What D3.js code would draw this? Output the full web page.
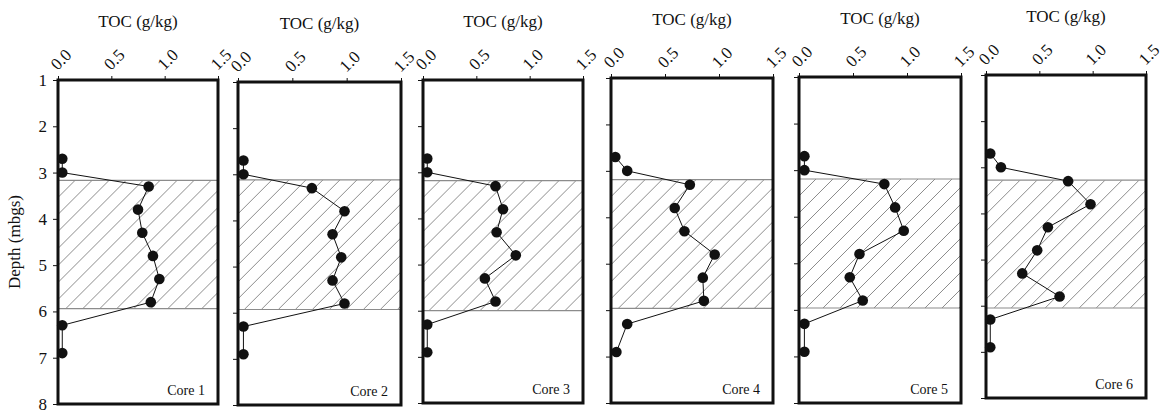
<!DOCTYPE html>
<html>
<head>
<meta charset="utf-8">
<script src="https://cdn.jsdelivr.net/npm/d3@7"></script>
<style>
  html, body { margin: 0; padding: 0; background: #fff; }
  svg { display: block; }
  svg text { font-family: "Liberation Serif", "DejaVu Serif", serif; fill: #111; }
</style>
</head>
<body>
<svg id="chart" width="1166" height="413"></svg>
<script>
// ---- data ----
const coreNames = ["Core 1", "Core 2", "Core 3", "Core 4", "Core 5", "Core 6"];
const depths = [2.7, 3.0, 3.3, 3.8, 4.3, 4.8, 5.3, 5.8, 6.3, 6.9];
const core1 = [0.04, 0.04, 0.85, 0.75, 0.79, 0.89, 0.95, 0.87, 0.04, 0.04];
const core2 = [0.05, 0.05, 0.68, 0.98, 0.87, 0.95, 0.87, 0.98, 0.05, 0.05];
const core3 = [0.04, 0.04, 0.68, 0.75, 0.69, 0.87, 0.58, 0.68, 0.04, 0.04];
const core4 = [0.04, 0.15, 0.73, 0.59, 0.68, 0.96, 0.85, 0.86, 0.15, 0.05];
const core5 = [0.05, 0.05, 0.79, 0.89, 0.97, 0.56, 0.47, 0.59, 0.05, 0.05];
const core6 = [0.04, 0.14, 0.77, 0.98, 0.58, 0.48, 0.34, 0.69, 0.04, 0.04];
const tocTicks = [0, 0.5, 1.0, 1.5];
const depthTicks = [1, 2, 3, 4, 5, 6, 7, 8];
const hatchTop = [3.17, 3.12, 3.18, 3.19, 3.19, 3.28];
const hatchBottom = [5.94, 5.93, 6.0, 5.96, 5.96, 6.05];
const xTitle = "TOC (g/kg)";
const yTitle = "Depth (mbgs)";

const series = [core1, core2, core3, core4, core5, core6];

// ---- layout (per panel frame: left, right, top, bottom) ----
const frames = [
  [58, 218, 80, 404],
  [238, 401, 82, 405],
  [423, 583, 80, 403],
  [611, 773, 78, 403],
  [799, 961, 77, 403],
  [986, 1146, 75, 398]
];
const FONT = "'Liberation Serif', 'DejaVu Serif', serif";

const svg = d3.select("#chart");
const defs = svg.append("defs");

frames.forEach((f, i) => {
  const [L, R, T, B] = f;
  const x = d3.scaleLinear().domain([0, 1.5]).range([L, R]);
  const y = d3.scaleLinear().domain([1, 8]).range([T, B]);
  const g = svg.append("g");

  // hatched band
  const clipId = "clip" + i;
  const y0 = y(hatchTop[i]), y1 = y(hatchBottom[i]);
  defs.append("clipPath").attr("id", clipId)
    .append("rect").attr("x", L).attr("y", y0).attr("width", R - L).attr("height", y1 - y0);
  const hg = g.append("g").attr("clip-path", `url(#${clipId})`);
  const step = 17;
  const h = y1 - y0;
  const starts = d3.range(L - h - step, R + step, step);
  hg.selectAll("line").data(starts).join("line")
    .attr("x1", d => d).attr("y1", y1)
    .attr("x2", d => d + h).attr("y2", y0)
    .attr("stroke", "#6e6e6e").attr("stroke-width", 0.8);
  g.selectAll("line.edge").data([y0, y1]).join("line").attr("class", "edge")
    .attr("x1", L).attr("x2", R)
    .attr("y1", d => d).attr("y2", d => d)
    .attr("stroke", "#8c8c8c").attr("stroke-width", 1.2);

  // top axis
  const ax = g.append("g").attr("transform", `translate(0,${T})`)
    .call(d3.axisTop(x).tickValues(tocTicks).tickFormat(d3.format(".1f")).tickSize(4).tickSizeOuter(0));
  ax.attr("font-family", FONT);
  ax.select(".domain").remove();
  ax.selectAll(".tick line").attr("stroke", "#111").attr("stroke-width", 1);
  ax.selectAll(".tick text")
    .attr("x", 0).attr("y", 0).attr("dy", 0)
    .attr("text-anchor", "start")
    .attr("transform", "translate(-1,-9) rotate(-45)")
    .style("font-size", "17px").style("font-family", FONT);

  // left axis
  const ay = g.append("g").attr("transform", `translate(${L},0)`)
    .call(d3.axisLeft(y).tickValues(depthTicks).tickSize(5).tickPadding(6).tickSizeOuter(0)
      .tickFormat(i === 0 ? d3.format("d") : () => ""));
  ay.attr("font-family", FONT);
  ay.select(".domain").remove();
  ay.selectAll(".tick line").attr("stroke", "#111").attr("stroke-width", 1);
  ay.selectAll(".tick text").style("font-size", "17px").style("font-family", FONT);

  // frame
  g.append("rect").attr("x", L).attr("y", T).attr("width", R - L).attr("height", B - T)
    .attr("fill", "none").attr("stroke", "#111").attr("stroke-width", 3);

  // title
  g.append("text").attr("x", (L + R) / 2).attr("y", T - 53)
    .attr("text-anchor", "middle").style("font-size", "17px").style("font-family", FONT).text(xTitle);

  // core label
  g.append("text").attr("x", R - 13).attr("y", B - 9)
    .attr("text-anchor", "end").style("font-size", "14px").style("font-family", FONT).text(coreNames[i]);

  // data
  const pts = depths.map((d, k) => [series[i][k], d]);
  g.append("path").datum(pts)
    .attr("fill", "none").attr("stroke", "#111").attr("stroke-width", 1)
    .attr("d", d3.line().x(d => x(d[0])).y(d => y(d[1])));
  g.selectAll("circle").data(pts).join("circle")
    .attr("cx", d => x(d[0])).attr("cy", d => y(d[1])).attr("r", 5.3)
    .attr("fill", "#111");
});

svg.append("text")
  .attr("transform", "translate(20,242) rotate(-90)")
  .attr("text-anchor", "middle").style("font-size", "17px").style("font-family", FONT).text(yTitle);
</script>
</body>
</html>
